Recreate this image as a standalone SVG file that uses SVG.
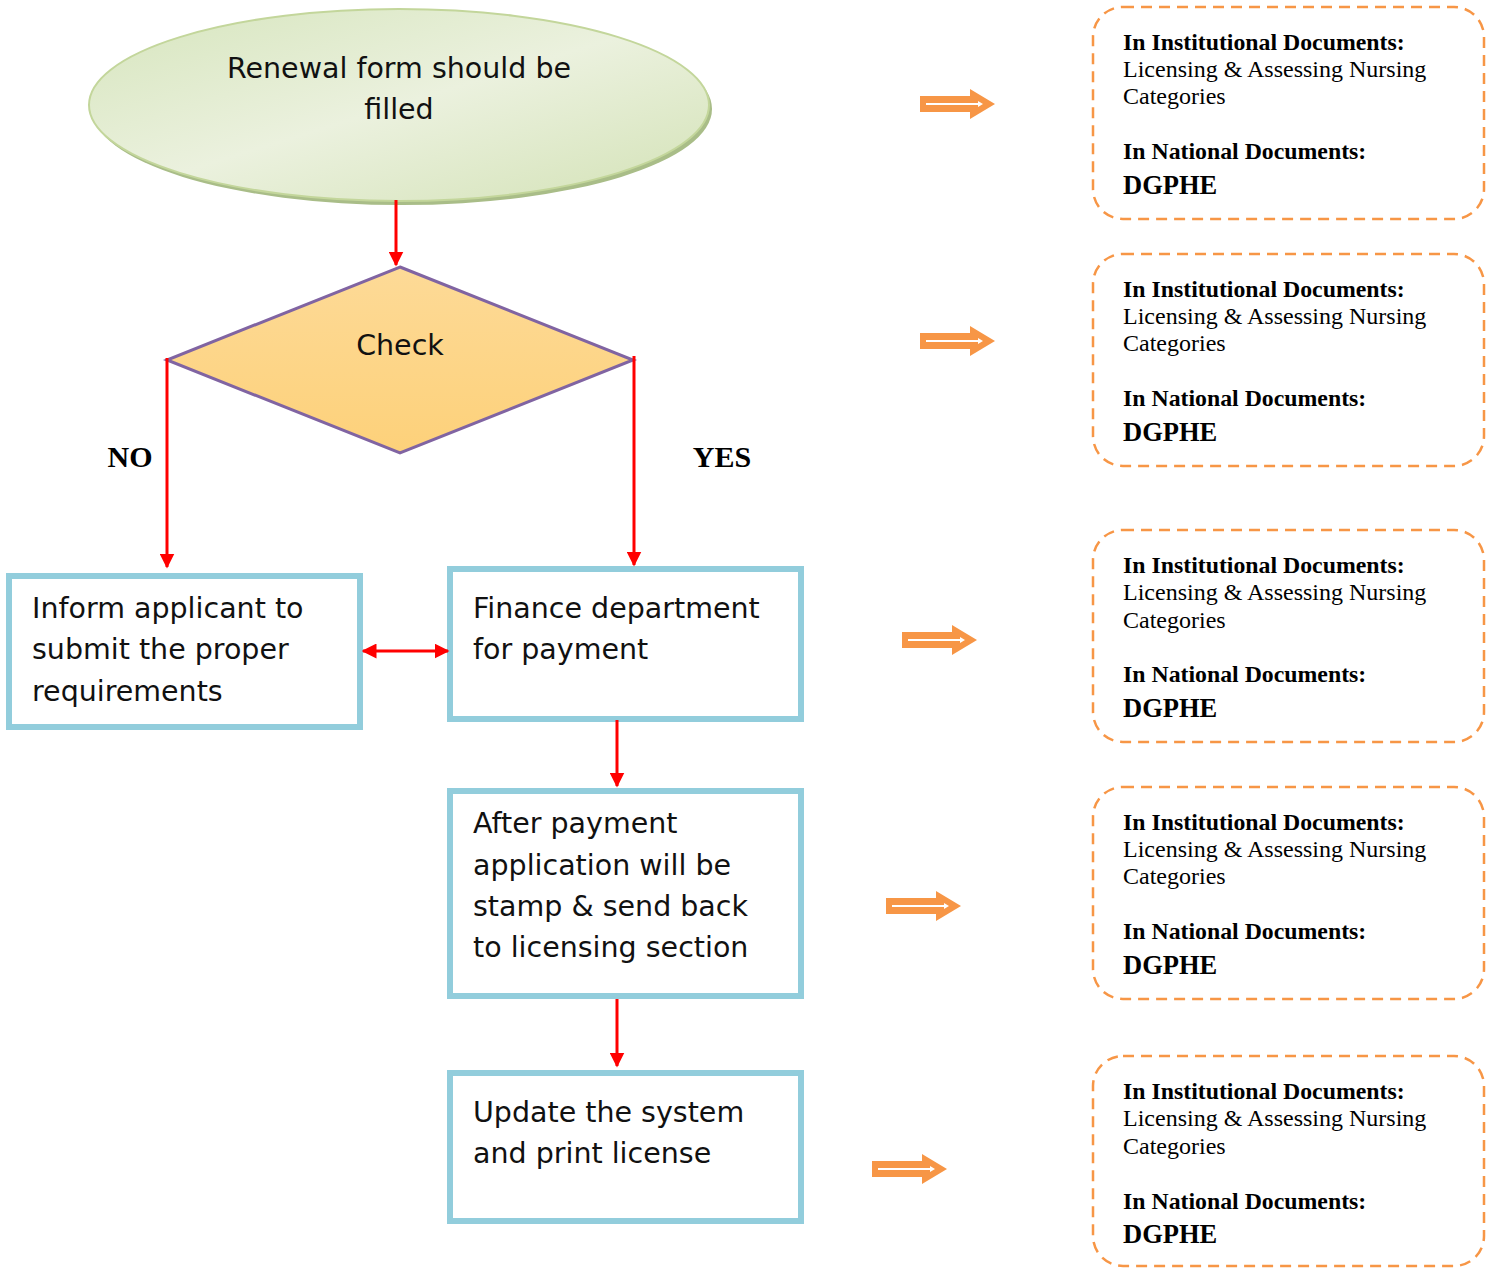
<svg xmlns="http://www.w3.org/2000/svg" width="1492" height="1268" viewBox="0 0 1492 1268">
<defs>
<linearGradient id="gEll" x1="0" y1="0" x2="1" y2="1">
<stop offset="0" stop-color="#d6e5bd"/>
<stop offset="0.5" stop-color="#ebf1de"/>
<stop offset="1" stop-color="#d3e2b6"/>
</linearGradient>
<linearGradient id="gDia" x1="0" y1="0" x2="0" y2="1">
<stop offset="0" stop-color="#fdda97"/>
<stop offset="1" stop-color="#fdd17a"/>
</linearGradient>
<marker id="ah" viewBox="0 0 10 10" refX="9" refY="5" markerWidth="5" markerHeight="5" orient="auto-start-reverse" markerUnits="strokeWidth">
<path d="M0,0 L10,5 L0,10 z" fill="#ff0000"/>
</marker>
<g id="oarrow">
<path d="M0,-8 L50,-8 L50,-15 L75,0 L50,15 L50,8 L0,8 z" fill="#f79646"/>
<path d="M6,-1 L58,-1 L58,-3 L63,0 L58,3 L58,1 L6,1 z" fill="#ffffff"/>
</g>
</defs>
<style>
.cg{font-family:"DejaVu Sans","Noto Sans",sans-serif;font-size:28.5px;fill:#111;}
.box{fill:#ffffff;stroke:#92cddc;stroke-width:6;}
.conn{stroke:#ff0000;stroke-width:3;fill:none;}
.doc{fill:none;stroke:#f79646;stroke-width:2.5;stroke-dasharray:11 7;}
.tb{font-family:"Liberation Serif","Times New Roman",serif;font-size:23.8px;font-weight:bold;fill:#000;}
.tr{font-family:"Liberation Serif","Times New Roman",serif;font-size:24px;fill:#000;}
.tbig{font-family:"Liberation Serif","Times New Roman",serif;font-size:26.5px;font-weight:bold;fill:#000;}
.lbl{font-family:"Liberation Serif","Times New Roman",serif;font-size:30px;font-weight:bold;fill:#000;}
</style>
<rect width="1492" height="1268" fill="#ffffff"/>

<g id="start">
<ellipse cx="402" cy="109" rx="310" ry="96" fill="#a9bd88"/>
<ellipse cx="399" cy="105" rx="310" ry="96" fill="url(#gEll)" stroke="#c3d69b" stroke-width="2"/>
<text class="cg" x="399" y="78" text-anchor="middle">Renewal form should be</text>
<text class="cg" x="399" y="119" text-anchor="middle">filled</text>
</g>

<g id="check">
<polygon points="400,267 633,360 400,453 167,360" fill="url(#gDia)" stroke="#8064a2" stroke-width="3"/>
<text class="cg" x="400" y="355" text-anchor="middle">Check</text>
</g>

<g id="inform">
<rect class="box" x="9" y="576" width="351" height="151"/>
<text class="cg" x="32" y="618">Inform applicant to</text>
<text class="cg" x="32" y="659">submit the proper</text>
<text class="cg" x="32" y="701">requirements</text>
</g>

<g id="finance">
<rect class="box" x="450" y="569" width="351" height="150"/>
<text class="cg" x="473" y="618">Finance department</text>
<text class="cg" x="473" y="659">for payment</text>
</g>

<g id="after">
<rect class="box" x="450" y="791" width="351" height="205"/>
<text class="cg" x="473" y="833">After payment</text>
<text class="cg" x="473" y="875">application will be</text>
<text class="cg" x="473" y="916">stamp &amp; send back</text>
<text class="cg" x="473" y="957">to licensing section</text>
</g>

<g id="update">
<rect class="box" x="450" y="1073" width="351" height="148"/>
<text class="cg" x="473" y="1122">Update the system</text>
<text class="cg" x="473" y="1163">and print license</text>
</g>

<g id="labels">
<text class="lbl" x="130" y="467" text-anchor="middle">NO</text>
<text class="lbl" x="722" y="467" text-anchor="middle">YES</text>
</g>

<g id="connectors">
<line class="conn" x1="396" y1="200" x2="396" y2="265" marker-end="url(#ah)"/>
<line class="conn" x1="167" y1="358" x2="167" y2="567" marker-end="url(#ah)"/>
<line class="conn" x1="634" y1="356" x2="634" y2="565" marker-end="url(#ah)"/>
<line class="conn" x1="363" y1="651" x2="448" y2="651" marker-start="url(#ah)" marker-end="url(#ah)"/>
<line class="conn" x1="617" y1="720" x2="617" y2="786" marker-end="url(#ah)"/>
<line class="conn" x1="617" y1="999" x2="617" y2="1066" marker-end="url(#ah)"/>
<use href="#oarrow" x="920" y="104"/>
<use href="#oarrow" x="920" y="341"/>
<use href="#oarrow" x="902" y="640"/>
<use href="#oarrow" x="886" y="906"/>
<use href="#oarrow" x="872" y="1169"/>
</g>

<g id="doc1">
<rect class="doc" x="1093" y="7" width="391" height="212" rx="30"/>
<text class="tb" x="1123" y="50">In Institutional Documents:</text>
<text class="tr" x="1123" y="77">Licensing &amp; Assessing Nursing</text>
<text class="tr" x="1123" y="104">Categories</text>
<text class="tb" x="1123" y="159">In National Documents:</text>
<text class="tbig" x="1123" y="194">DGPHE</text>
</g>
<g id="doc2">
<rect class="doc" x="1093" y="254" width="391" height="212" rx="30"/>
<text class="tb" x="1123" y="297">In Institutional Documents:</text>
<text class="tr" x="1123" y="324">Licensing &amp; Assessing Nursing</text>
<text class="tr" x="1123" y="351">Categories</text>
<text class="tb" x="1123" y="406">In National Documents:</text>
<text class="tbig" x="1123" y="441">DGPHE</text>
</g>
<g id="doc3">
<rect class="doc" x="1093" y="530" width="391" height="212" rx="30"/>
<text class="tb" x="1123" y="573">In Institutional Documents:</text>
<text class="tr" x="1123" y="600">Licensing &amp; Assessing Nursing</text>
<text class="tr" x="1123" y="628">Categories</text>
<text class="tb" x="1123" y="682">In National Documents:</text>
<text class="tbig" x="1123" y="717">DGPHE</text>
</g>
<g id="doc4">
<rect class="doc" x="1093" y="787" width="391" height="212" rx="30"/>
<text class="tb" x="1123" y="830">In Institutional Documents:</text>
<text class="tr" x="1123" y="857">Licensing &amp; Assessing Nursing</text>
<text class="tr" x="1123" y="884">Categories</text>
<text class="tb" x="1123" y="939">In National Documents:</text>
<text class="tbig" x="1123" y="974">DGPHE</text>
</g>
<g id="doc5">
<rect class="doc" x="1093" y="1056" width="391" height="210" rx="30"/>
<text class="tb" x="1123" y="1099">In Institutional Documents:</text>
<text class="tr" x="1123" y="1126">Licensing &amp; Assessing Nursing</text>
<text class="tr" x="1123" y="1154">Categories</text>
<text class="tb" x="1123" y="1209">In National Documents:</text>
<text class="tbig" x="1123" y="1243">DGPHE</text>
</g>
</svg>
